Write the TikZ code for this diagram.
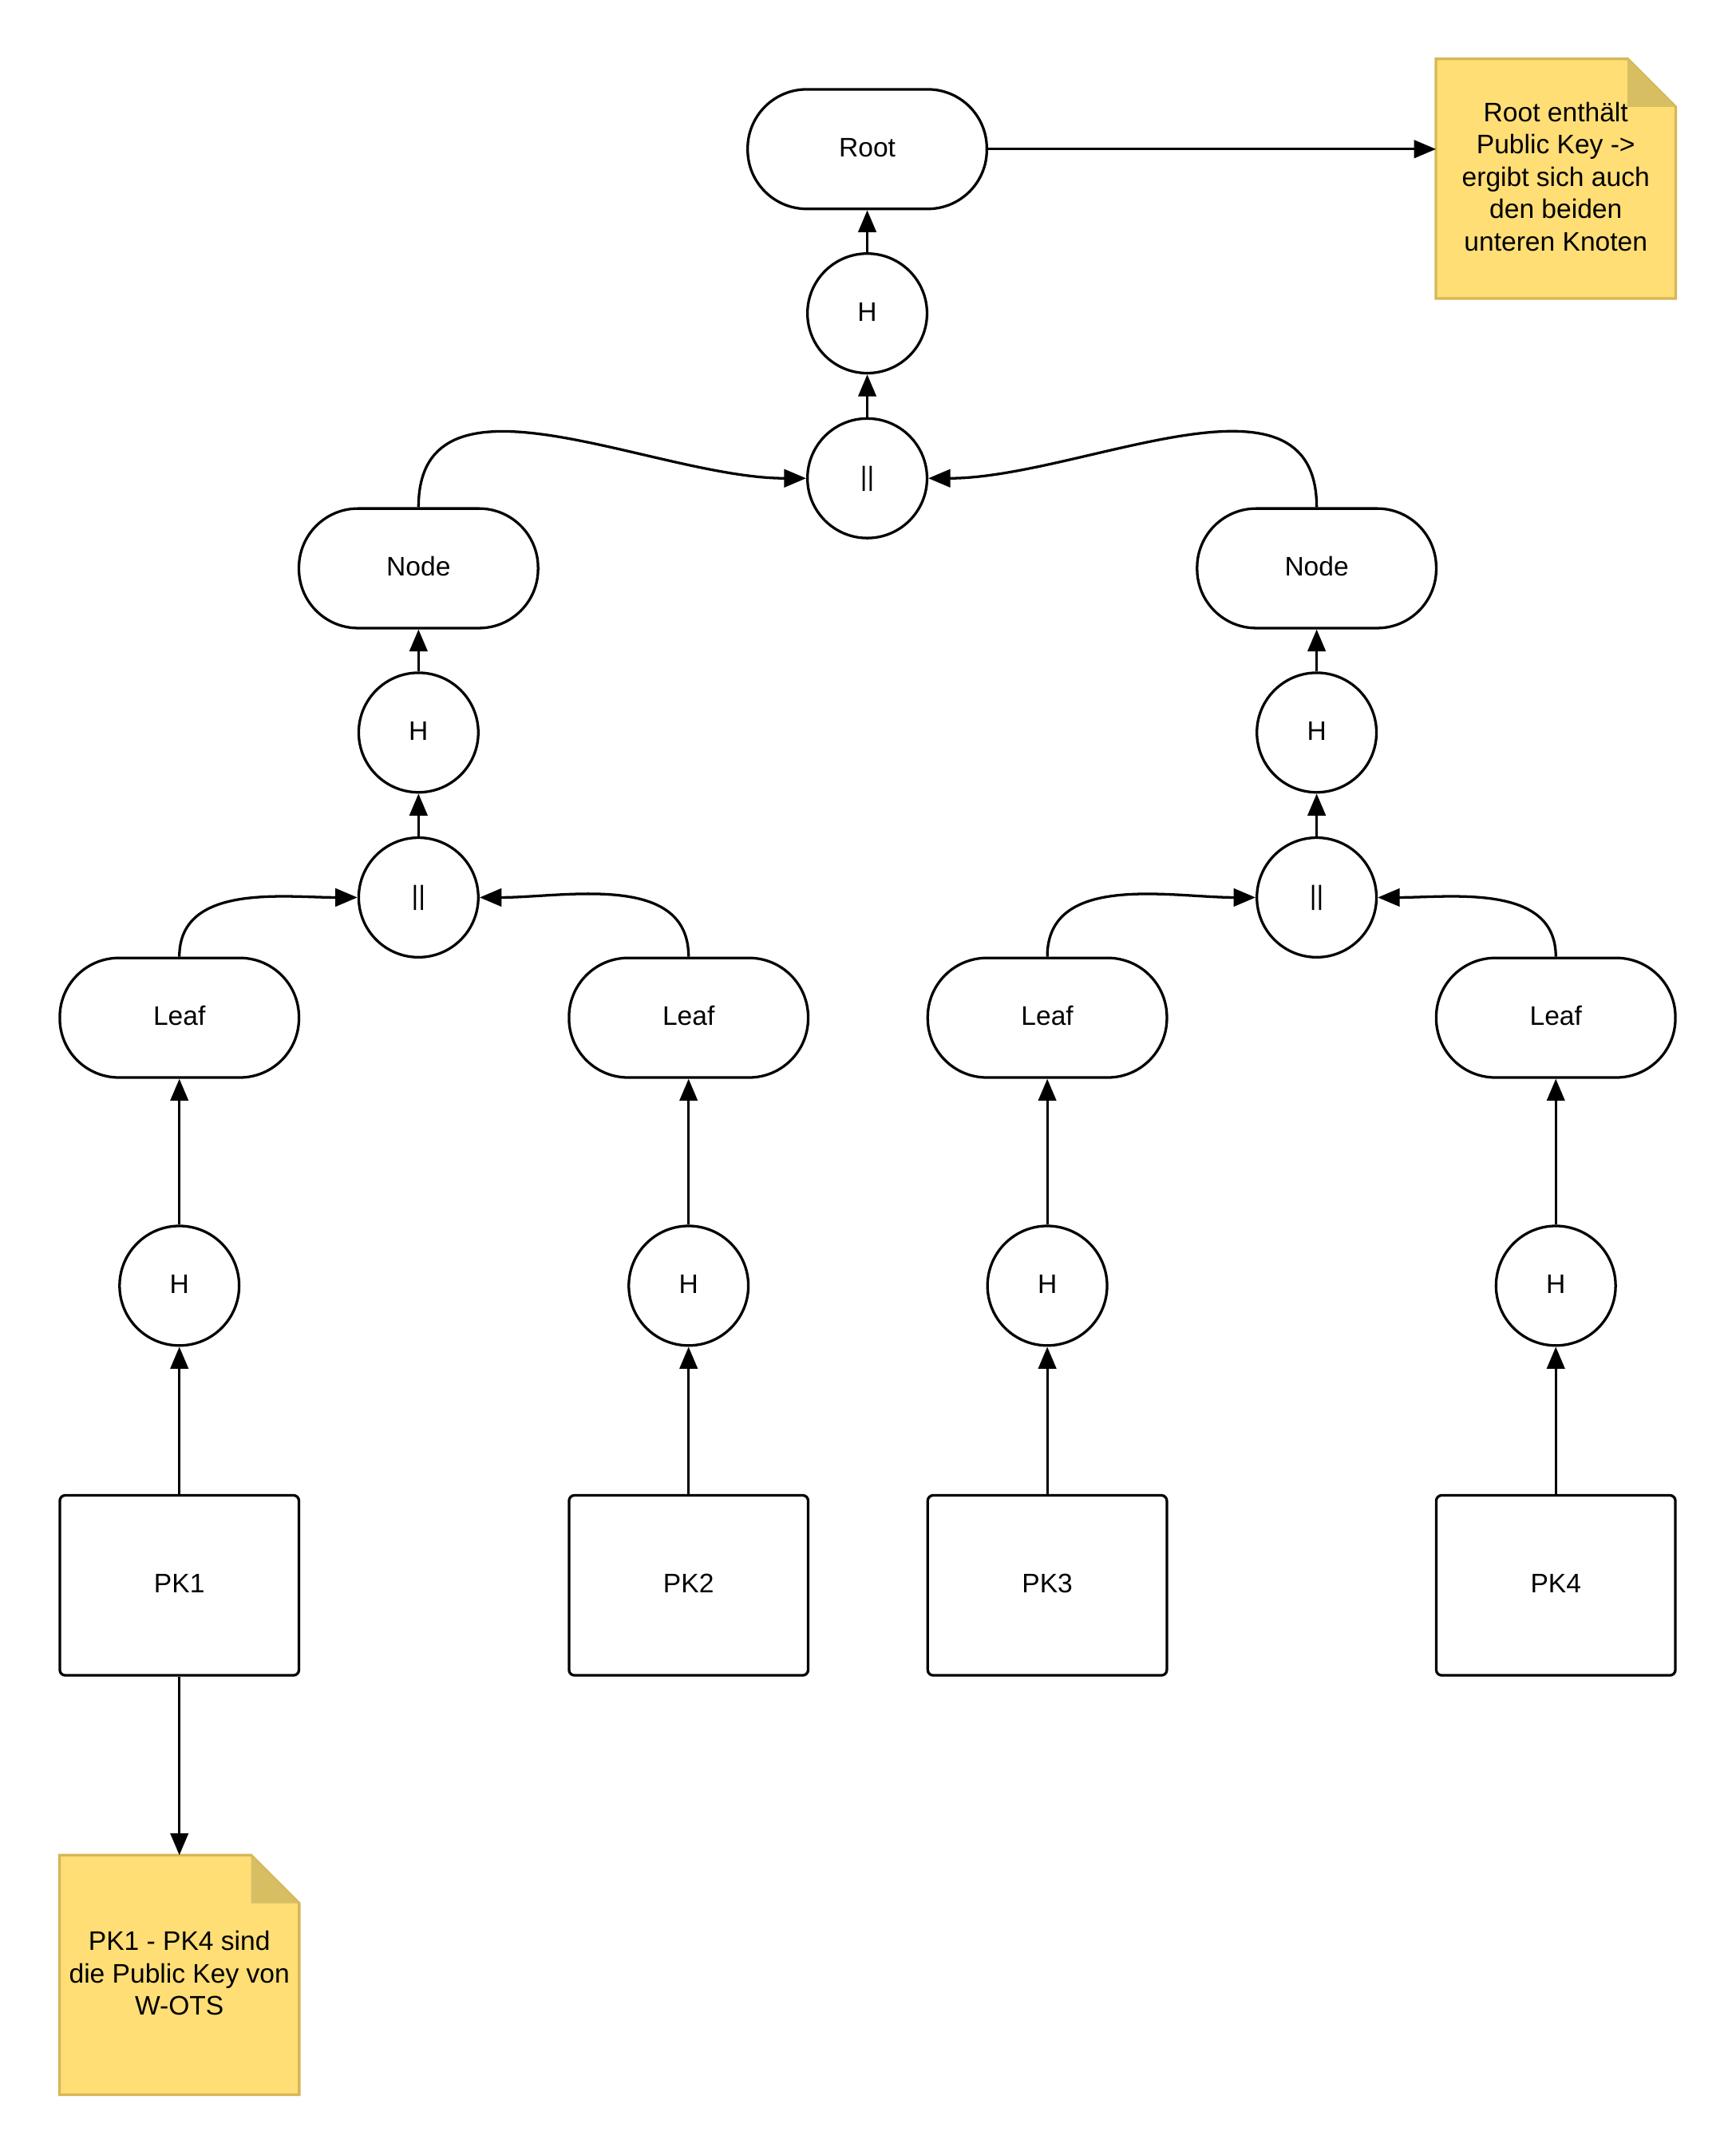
\documentclass[tikz,border=0pt]{standalone}
\usepackage{fontspec}
\setmainfont{Liberation Sans}
\usetikzlibrary{arrows.meta, positioning, calc, backgrounds}
\definecolor{noteFill}{HTML}{FFDE75}
\definecolor{noteDraw}{HTML}{D6B656}
\definecolor{noteFold}{HTML}{D8BE62}
\tikzset{
    termNode/.style={rectangle, draw=black, fill=white, line width=1.9pt, rounded corners=43pt, minimum width=174pt, minimum height=87pt, inner sep=0pt, text height=14pt, text depth=3pt, font=\fontsize{19.5}{23.5}\selectfont},
    hashNode/.style={circle, draw=black, fill=white, line width=1.9pt, minimum size=87pt, inner sep=0pt, text height=14pt, text depth=3pt, font=\fontsize{19.5}{23.5}\selectfont},
    keyBox/.style={rectangle, draw=black, fill=white, line width=1.9pt, rounded corners=4pt, minimum width=174pt, minimum height=131pt, inner sep=0pt, text height=14pt, text depth=3pt, font=\fontsize{19.5}{23.5}\selectfont},
    noteBox/.style={rectangle, minimum width=174pt, minimum height=174pt, inner sep=0pt, text depth=3pt, align=center, font=\fontsize{19.5}{23.5}\selectfont},
    noteLine/.style={fill=noteFill, draw=noteDraw, line width=1.9pt, line join=miter},
    flowLine/.style={-{Triangle[length=16pt, width=13pt]}, line width=1.9pt}
}

\begin{document}
\begin{tikzpicture}[x=1pt, y=-1pt]

        \useasboundingbox (0,0) rectangle (1263,1568);

        % 1. Upper tree
        \node[termNode] (root) at (631,108.5) {Root};
        \node[hashNode] (hashTop) at (631,228) {H};
        \node[hashNode] (catTop) at (631,348) {\textbar\textbar};
        \node[termNode] (nodeL) at (304.5,413.5) {Node};
        \node[termNode] (nodeR) at (958,413.5) {Node};
        \node[hashNode] (hashL) at (304.5,533) {H};
        \node[hashNode] (hashR) at (958,533) {H};
        \node[hashNode] (catL) at (304.5,653) {\textbar\textbar};
        \node[hashNode] (catR) at (958,653) {\textbar\textbar};

        % 2. Leaves, hashes and public keys
        \foreach \i/\x in {1/130.5, 2/501, 3/762, 4/1132} {
            \node[termNode] (leaf\i) at (\x,740.5) {Leaf};
            \node[hashNode] (hash\i) at (\x,935.5) {H};
            \node[keyBox] (pk\i) at (\x,1153.5) {PK\i};
            \draw[flowLine] (pk\i) -- (hash\i);
            \draw[flowLine] (hash\i) -- (leaf\i);
        }

        % 3. Concatenation inputs
        \draw[flowLine] (leaf1.north) to[out=90, in=180] (catL.west);
        \draw[flowLine] (leaf2.north) to[out=90, in=0] (catL.east);
        \draw[flowLine] (leaf3.north) to[out=90, in=180] (catR.west);
        \draw[flowLine] (leaf4.north) to[out=90, in=0] (catR.east);
        \draw[flowLine] (nodeL.north) to[out=90, in=180] (catTop.west);
        \draw[flowLine] (nodeR.north) to[out=90, in=0] (catTop.east);

        % 4. Hash chain upwards
        \draw[flowLine] (catL) -- (hashL);
        \draw[flowLine] (hashL) -- (nodeL);
        \draw[flowLine] (catR) -- (hashR);
        \draw[flowLine] (hashR) -- (nodeR);
        \draw[flowLine] (catTop) -- (hashTop);
        \draw[flowLine] (hashTop) -- (root);

        % 5. Notes (paper drawn on the background layer)
        \node[noteBox] (noteRoot) at (1132,130) {Root enthält\\Public Key ->\\ergibt sich auch\\den beiden\\unteren Knoten};
        \node[noteBox] (notePK) at (130.5,1437) {PK1 - PK4 sind\\die Public Key von\\W-OTS};
        \begin{scope}[on background layer]
            \foreach \n in {noteRoot, notePK} {
                \draw[noteLine] (\n.north west) -- ($(\n.north east)+(-35,0)$) -- ($(\n.north east)+(0,35)$) -- (\n.south east) -- (\n.south west) -- cycle;
                \fill[noteFold] ($(\n.north east)+(-35,0)$) -- ($(\n.north east)+(-35,35)$) -- ($(\n.north east)+(0,35)$) -- cycle;
            }
        \end{scope}

        \draw[flowLine] (root.east) -- (root.east -| noteRoot.west);
        \draw[flowLine] (pk1.south) -- (notePK.north);

    \end{tikzpicture}
\end{document}
